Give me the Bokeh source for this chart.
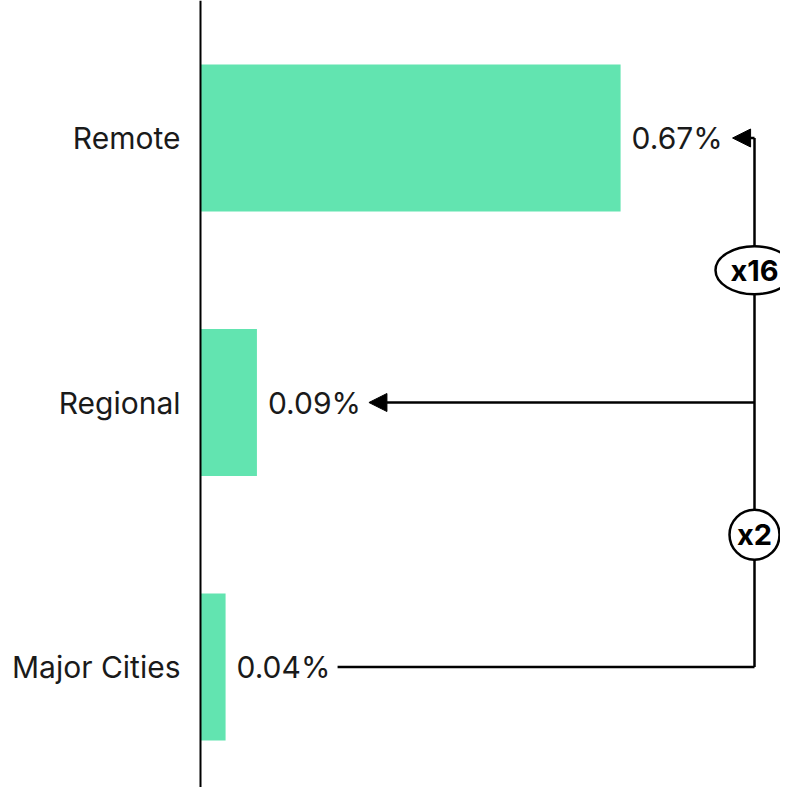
from bokeh.plotting import figure
from bokeh.models import Range1d, Span, Arrow, NormalHead, ColumnDataSource
from bokeh.core.properties import value
from bokeh.embed import file_html
from bokeh.resources import INLINE

# ---- data ----
categories = ["Major Cities", "Regional", "Remote"]
rates = [0.04, 0.09, 0.67]          # percent
value_labels = ["0.04%", "0.09%", "0.67%"]
ratio_labels = ["x2", "x16"]        # Regional vs Major, Remote vs Regional

# ---- layout constants ----
W, H = 780, 787
PX = 627.0            # pixels per 1 percentage point
X0 = 200.0            # canvas x of zero
ROW = 264.5           # pixels per category row
TOP_ROW_Y = 137.5     # canvas y of top category centre
n = len(categories)
ypos = list(range(n))

x_start = -X0 / PX
x_end = (W - X0) / PX
y_top = (n - 1) + TOP_ROW_Y / ROW
y_bot = y_top - H / ROW

p = figure(width=W, height=H, output_backend="svg", toolbar_location=None,
           x_range=Range1d(x_start, x_end), y_range=Range1d(y_bot, y_top),
           min_border=0, outline_line_color=None)
p.xaxis.visible = False
p.yaxis.visible = False
p.grid.visible = False
p.background_fill_color = "white"
p.border_fill_color = "white"

FONT = value("Inter")
TXT = "#1a1a1a"

src = ColumnDataSource(dict(y=ypos, v=rates, cat=categories, lab=value_labels))
p.hbar(y="y", left=0, right="v", height=0.556, source=src,
       fill_color="#62E4B0", line_color=None)

# baseline axis
p.add_layout(Span(location=0, dimension="height", line_color="black", line_width=2))

# category labels
p.text(x=0, y="y", text="cat", source=src, x_offset=-20, text_align="right",
       text_baseline="middle", text_font=FONT, text_font_size="30px", text_color=TXT)
# value labels
p.text(x="v", y="y", text="lab", source=src, x_offset=11, text_align="left",
       text_baseline="middle", text_font=FONT, text_font_size="30px", text_color=TXT)

# connectors
LABEL_W = 89.0
GAP = 12.0
xr = (754.0 - X0) / PX   # right connector line x
tips = [v + (11 + LABEL_W + GAP) / PX for v in rates]

p.segment(x0=[xr], y0=[ypos[0]], x1=[xr], y1=[ypos[-1]], line_color="black", line_width=2.5)
# bottom line (no head)
p.segment(x0=[tips[0]], y0=[ypos[0]], x1=[xr], y1=[ypos[0]], line_color="black", line_width=2.5)
for i in range(1, n):
    p.add_layout(Arrow(x_start=xr, y_start=ypos[i], x_end=tips[i], y_end=ypos[i],
                       line_color="black", line_width=2.5,
                       end=NormalHead(size=18, fill_color="black", line_color="black", line_width=1)))

# ratio bubbles
mid_y = [(ypos[i] + ypos[i + 1]) / 2 for i in range(n - 1)]
widths = [50, 78]
heights = [50, 48]
p.ellipse(x=[xr] * (n - 1), y=mid_y, width=widths, height=heights,
          width_units="screen", height_units="screen",
          fill_color="white", line_color="black", line_width=2.5)
p.text(x=[xr] * (n - 1), y=mid_y, text=ratio_labels, text_align="center",
       text_baseline="middle", text_font=FONT, text_font_style="bold",
       text_font_size="29px", text_color="black")

open("out.html", "w").write(file_html(p, INLINE))
